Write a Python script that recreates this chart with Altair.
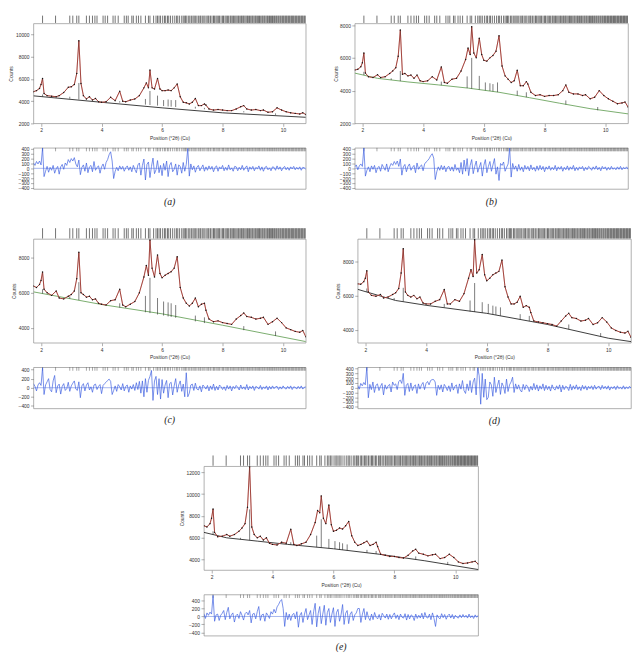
import altair as alt
import numpy as np
import pandas as pd

XDOM = [1.75, 10.75]
X_TICKS = [2, 4, 6, 8, 10]

# sampling positions of the observed / calculated profile (°2θ)
x_grid = [1.75, 1.85, 1.95, 2.0, 2.05, 2.1, 2.2, 2.35, 2.5, 2.6, 2.75, 2.9, 3.0, 3.1, 3.18,
          3.25, 3.32, 3.4, 3.5, 3.6, 3.7, 3.8, 3.9, 4.0, 4.15, 4.3, 4.45, 4.6, 4.7, 4.8,
          4.95, 5.1, 5.25, 5.4, 5.48, 5.55, 5.6, 5.67, 5.75, 5.85, 5.93, 6.0, 6.1, 6.2, 6.3,
          6.4, 6.5, 6.6, 6.7, 6.8, 6.9, 7.0, 7.1, 7.2, 7.3, 7.4, 7.45, 7.55, 7.7, 7.85,
          8.0, 8.15, 8.3, 8.45, 8.6, 8.7, 8.8, 8.95, 9.1, 9.25, 9.35, 9.5, 9.65, 9.8, 9.95,
          10.1, 10.25, 10.4, 10.55, 10.65, 10.75]

obs_a = [4850, 4950, 5150, 5500, 6050, 4700, 4500, 4450, 4400, 4500,
         4780, 5250, 5300, 5500, 6500, 9450, 5600, 4500, 4200, 4400,
         4100, 4250, 3950, 3900, 3950, 4350, 4050, 4900, 4000, 3950,
         4100, 4200, 4500, 5200, 5650, 5200, 6800, 5200, 5100, 6050,
         5100, 4950, 4950, 5000, 4950, 5200, 5550, 4400, 3900, 3850,
         3750, 3900, 4250, 3600, 3600, 3750, 3650, 3300, 3200, 3250,
         3200, 3150, 3150, 3300, 3500, 3600, 3300, 3200, 3250, 3150,
         3200, 3000, 3050, 3400, 3200, 3050, 2950, 2900, 2850, 2950, 2800]
obs_b = [5260, 5300, 5460, 5700, 6300, 5070, 4850, 4800, 4970, 4800,
         4850, 5050, 5200, 5400, 6100, 7700, 5000, 5050, 4900, 4950,
         4750, 4950, 4600, 4550, 4600, 4850, 4650, 5450, 4500, 4450,
         4700, 4750, 5200, 5900, 6600, 6200, 7900, 6300, 6000, 7200,
         6200, 5850, 5800, 6000, 6150, 6400, 7350, 5500, 4900, 4700,
         4500, 4600, 5250, 4300, 4300, 4550, 4400, 3900, 3700, 3750,
         3650, 3700, 3700, 3750, 4000, 4350, 3900, 3800, 3800, 3700,
         3750, 3500, 3600, 4000, 3700, 3500, 3350, 3200, 3250, 3300, 3000]
obs_c = [6380, 6300, 6470, 6700, 7180, 6200, 6000, 5850, 6100, 5700,
         5650, 5800, 5900, 6100, 6800, 8300, 6000, 5900, 5750, 5800,
         5600, 5650, 5400, 5350, 5300, 5550, 5600, 6200, 5300, 5200,
         5350, 5500, 6000, 6900, 7550, 7000, 9000, 7400, 6900, 8150,
         7100, 6850, 7000, 7100, 7200, 7400, 8050, 6300, 5700, 5400,
         5250, 5400, 5700, 5200, 5350, 5400, 5000, 4500, 4350, 4400,
         4300, 4250, 4200, 4500, 4700, 4850, 4650, 4600, 4500, 4550,
         4600, 4200, 4350, 4550, 4300, 4000, 3900, 3800, 3750, 3850, 3500]
obs_d = [6670, 6650, 6800, 7000, 7430, 6200, 6000, 5950, 6050, 5850,
         5900, 6050, 6150, 6400, 7300, 8720, 6200, 6000, 5900, 6000,
         5800, 5900, 5550, 5500, 5500, 5650, 5750, 6340, 5500, 5500,
         5750, 5650, 6100, 7000, 7500, 7100, 9250, 7300, 7500, 8380,
         7200, 6850, 7000, 7200, 7300, 7400, 8060, 6500, 5900, 5500,
         5500, 5600, 5950, 5300, 5400, 5300, 5000, 4500, 4450, 4400,
         4350, 4300, 4200, 4500, 4800, 4950, 4700, 4650, 4500, 4550,
         4650, 4300, 4400, 4700, 4450, 4100, 3950, 3850, 3800, 3900, 3550]
obs_e = [7100, 7000, 7300, 7800, 8640, 6500, 6100, 6150, 6300, 6150,
         6300, 6600, 6900, 7300, 8800, 12500, 7000, 6300, 6000, 6150,
         5800, 6000, 5500, 5400, 5350, 5600, 5500, 6790, 5400, 5300,
         5450, 5600, 6300, 7400, 8500, 8300, 9840, 7800, 7300, 9000,
         7200, 6600, 6700, 6900, 6800, 7100, 7500, 6200, 5600, 5300,
         5400, 5550, 5700, 5300, 5400, 5600, 5200, 4500, 4400, 4300,
         4300, 4200, 4150, 4400, 4800, 4950, 4600, 4500, 4350, 4450,
         4500, 4100, 4200, 4500, 4200, 3800, 3650, 3700, 3800, 3850, 3600]

# backgrounds
bg_a_x = [1.75, 4.0, 6.0, 8.0, 10.75]
bg_a_y = [4480, 3900, 3400, 2950, 2550]
bg_b_x = [1.75, 2.5, 3.5, 4.5, 5.5, 6.5, 7.5, 8.5, 9.5, 10.75]
bg_b_y = [5070, 4750, 4530, 4350, 4150, 3900, 3570, 3230, 2900, 2580]
bg_c_x = [1.75, 4.0, 6.0, 8.0, 10.75]
bg_c_y = [6050, 5330, 4800, 4150, 3220]
bg_d_x = [1.75, 3.0, 4.0, 6.0, 8.0, 10.0, 10.75]
bg_d_y = [6350, 5700, 5420, 4950, 4300, 3500, 3300]
bg_e_x = [1.75, 2.5, 3.5, 4.5, 6.0, 7.5, 9.0, 10.75]
bg_e_y = [6500, 6000, 5700, 5400, 5000, 4500, 3900, 3100]

# reflection intensity sticks (bottom / top)
stick_x = [2.05, 2.95, 3.25, 4.6, 5.45, 5.6, 5.85, 6.05, 6.2, 6.3, 6.45, 7.1, 7.4, 8.7, 9.75]
stick_lo_a = [4415, 4220, 4155, 3870, 3690, 3655, 3600, 3560, 3525, 3505, 3475, 3335, 3270, 2990, 2765]
stick_hi_a = [4600, 4400, 5640, 4000, 4200, 4920, 4500, 4100, 4150, 4100, 4100, 3500, 3400, 3100, 2900]
stick_lo_b = [4950, 4650, 4580, 4330, 4160, 4120, 4060, 4010, 3980, 3950, 3910, 3700, 3600, 3150, 2800]
stick_hi_b = [5150, 4750, 5200, 4550, 4870, 6000, 4900, 4500, 4450, 4400, 4500, 4000, 3900, 3400, 3000]
stick_lo_c = [5955, 5670, 5580, 5155, 4890, 4840, 4760, 4700, 4650, 4620, 4575, 4370, 4275, 3870, 3540]
stick_hi_c = [6200, 5800, 6600, 5400, 5820, 6850, 5700, 5500, 5450, 5400, 5300, 4700, 4600, 4100, 3800]
stick_lo_d = [6200, 5720, 5640, 5300, 5060, 5030, 4980, 4940, 4890, 4860, 4810, 4600, 4500, 4020, 3600]
stick_hi_d = [6400, 5850, 6440, 5500, 5700, 6720, 5600, 5500, 5400, 5350, 5300, 4900, 4800, 4300, 3800]
stick_lo_e = [6300, 5870, 5790, 5370, 5150, 5110, 5040, 4980, 4930, 4900, 4850, 4630, 4530, 4020, 3560]
stick_hi_e = [6600, 6000, 8600, 5600, 6200, 7700, 5900, 5700, 5600, 5500, 5400, 4900, 4800, 4300, 3800]

# reflection positions (tick marks)
refl = [2.05, 2.48, 2.95, 3.05, 3.18, 3.25, 3.5, 3.6, 3.7, 3.78, 3.85, 4.05, 4.12, 4.2, 4.38,
        4.45, 4.55, 4.75, 4.82, 4.88, 5.0, 5.05, 5.15, 5.22, 5.3, 5.45, 5.55, 5.6, 5.72, 5.8,
        5.85, 5.9, 5.95, 6.02, 6.08, 6.12, 6.18, 6.22, 6.28, 6.35, 6.42, 6.48, 6.52, 6.58,
        6.65, 6.7, 6.75, 6.78, 6.82, 6.88, 6.92, 6.97, 7.02, 7.06, 7.1, 7.15, 7.2, 7.25,
        7.28, 7.33, 7.38, 7.42, 7.48, 7.52, 7.55, 7.6, 7.65, 7.7, 7.73, 7.78, 7.82, 7.86,
        7.9, 7.95, 8.0, 8.03, 8.08, 8.12, 8.16, 8.2, 8.25, 8.28, 8.32, 8.36, 8.4, 8.44,
        8.48, 8.52, 8.55, 8.6, 8.63, 8.67, 8.7, 8.74, 8.78, 8.82, 8.85, 8.89, 8.93, 8.97,
        9.0, 9.04, 9.08, 9.11, 9.15, 9.19, 9.22, 9.26, 9.3, 9.33, 9.37, 9.4, 9.44, 9.48,
        9.51, 9.55, 9.58, 9.62, 9.65, 9.69, 9.72, 9.76, 9.79, 9.83, 9.86, 9.9, 9.93, 9.97,
        10.0, 10.03, 10.07, 10.1, 10.13, 10.17, 10.2, 10.23, 10.27, 10.3, 10.33, 10.36,
        10.4, 10.43, 10.46, 10.5, 10.53, 10.56, 10.6, 10.63, 10.66, 10.7, 10.73]

# difference curves (equally spaced over the 2θ range, step ≈ 0.05°)
diff_a = [110, 60, 140, 90, 150, 70, 420,
          -170, -60, 40, -80, 20, -40, 60, -100, -10, 40, -120, 30, 80, -20, 110, 60, 180, 120,
          200, 150, 220, 90, 30,
          170,
          -130, 20, 70, -60, 110, -90, 30, 60, -70, 140, -40, 20, 50, -100, 30, 90, -20, 120, 180,
          280, 340, 150, -210,
          -60, 20, -50, 50, -20, 40, -60, 10, 50, -40, 30, -70, 60, -20, -90, 70, 110,
          -140, 60, 190, -240, 80, 130, -190, 40, 210, -110, -30, 160, -90, 60, -150,
          100, -40, 150, -170, 60, 120, -70, -20, 90, -140, 70, 40, -100, 120, -60, 80,
          410,
          -160, 90, -30, 50, -80, 20, 60, -50, 10, 70, -60, 30, -40, 50, -20, 40, -70, 20, 50, -60,
          30, -10, 60, -50, 20, -40, 70, -30, 10, -60, 40, 30, -50, 20, -30, 60, -40, 10, 50, -70,
          30, -20, 40, -50, 20, -10, 50, -40, 30, -60, 20, 40, -30, 10, -50, 30, 20, -40, 50, -20,
          30, -50, 10, 40, -30, 20, -40, 30, -10, 40, -30, 20, -20, 30, -40, 20, 10, -20]
diff_b = [30, 70, -30, 50, 90, 40, 420,
          -160, -40, 30, -70, 50, -20, 60, -90, 10, 40, -60, 80, 20, -40, 90, -70, 30, 100,
          60, 140, 80, 150, 40,
          190,
          -140, 30, 80, -70, 40, 90, -40, 20, 60, -90, 110, -20, 40, 70, -50, 90, 130, 160, 200,
          260, 300, 210, -230,
          -70, 30, -40, 60, -30, 50, -70, 20, 40, -50, 30, -60, 80, -40, 10, -90, 120,
          -120, 170, -60, 200, -150, 60, 180, -110, 40, 150, -80, 20, 120, -160, 60,
          180, -90, 40, 140, -60, 70, 200, -120, 30, -250, 100, 60, 130, -60, 20, 90,
          420,
          -180, 100, -20, 50, -60, 80, -40, 30, -70, 60, -20, 40, -50, 70, -30, 20, -60, 50, -40, 60,
          -30, 40, -70, 30, -20, 50, -40, 20, -30, 60, -50, 30, -20, 40, -60, 20, -30, 50, -40, 30,
          -20, 60, -50, 20, -40, 30, -10, 40, -50, 20, -30, 40, 10, -40, 30, -20, 50, -30, 20, -50,
          40, -10, 30, -40, 20, -30, 40, -20, 10, -30, 30, -20, 40, -30, 20, -10, 30, -20]
diff_c = [90, 30, -70, 60, 110, 50, 440,
          -150, 60, 130, 200, -40, -90, 150, 270, -110, 40, 80, -140, 30, 90, -60, -20, 120, -80,
          40, 100, 150, -30, -60,
          130,
          -220, 40, 90, -70, 60, 110, -50, 20, -100, 60, 80, -40, 30, 70, -130, 50, 90, 120, 160,
          190, 140, -150, -60,
          40, -80, 70, 20, -50, 90, -70, 30, 60, -100, 40, -30, 70, -60, 110, -40, 140,
          -120, 150, -200, 200, -100, 160, 250, 380, -280, 150, 250, -150, 200, -250, 180,
          -120, 60, 160, -220, 90, 120, -160, 40, 200, -100, 60, 150, -80, 80, -200, 330,
          -200,
          -120, 60, 80, -60, 100, -30, -50, 40, -90, 60, 20, -30, 50, -70, 40, -40, 80, -60, 30, -50,
          60, 20, -40, 20, -60, 50, -30, 40, -70, 30, -20, 50, 10, -50, 60, -30, 20, -40, 70, -50,
          30, -20, 40, -60, 30, 10, -30, 50, -40, 20, -20, 40, -50, 30, -30, 40, -20, 20, 30, -40,
          20, -30, 40, -10, -30, 30, -20, 40, -40, 20, 10, -30, 30, -20, 40, -30, 10, 20]
diff_d = [50, -30, 90, 40, 110, 60, 430,
          -210, 70, -40, 120, -100, 50, 80, -60, 30, 90, -150, 60, -30, 40, 70, -90, 120, 50,
          80, -40, 130, 160, 90,
          300,
          -160, 50, 90, -80, 100, -60, 30, 60, -120, 80, -30, 60, 110, -40, 90, 130, 60, 150, 170,
          170, 120, -160, 50,
          -40, 60, -90, 70, 20, -60, 40, -80, 100, -50, 30, 60, -120, 80, -30, 150, -60,
          -120, 80, -60, 150, -100, 120, 200, -150, 420, 250, -345, 300, -200, 180, -250,
          -200, 120, 60, -180, 220, -100, 40, 160, -140, 100, 30, -120, 180, -80, 60, 120,
          220,
          -100, 80, -30, 60, -50, -90, 70, -40, 60, 20, -80, 30, -50, 90, -40, 60, -70, 40, -30, 80,
          -60, 50, -40, 30, -70, 60, -20, -50, 40, -30, 60, -90, 50, -40, 30, 10, -60, 70, -50, 40,
          -30, 60, -40, 20, -60, 50, -30, 40, -50, 30, -20, 40, -40, 50, -30, 20, 30, -40, 50, -20,
          30, -30, 40, -50, 20, -20, 30, -40, 40, -20, 10, -30, 40, -30, 20, -20, 30, -10]
diff_e = [70, -50, 90, 30, 110, 60, 530,
          -120, 40, 60, -100, 30, 80, 150, -80, 100, 230, -60, 40, 90, -140, 20, 60, -50, 120,
          30, -90, 70, 110, 40,
          150,
          -160, 60, 80, -60, 120, 250, -100, 40, 60, -120, 90, 30, -50, 120, 60, 180, 90, 240, 300,
          380, 425, 200, -250,
          100, -80, 60, -100, 40, 80, -60, 120, -270, 30, 100, -150, 60, 200, -80, 40, 150,
          -200, 120, 330, -260, 80, 250, -180, 60, 280, -220, 100, 200, -150, 60, 220,
          -250, 100, 180, -120, 40, 300, -200, 80, 150, -180, 60, 120, -100, 40, 90, 200,
          200,
          -150, 60, 200, -80, 120, -30, -100, 60, -80, 100, -20, -60, 50, -90, 80, 20, -40, 60, -70, 50,
          -60, 30, 90, -50, 40, -80, 60, -20, -40, 70, -90, 50, -60, 40, 10, -100, 60, -50, 30, -40,
          80, -60, 100, -20, -40, 60, -80, 90, -50, -250, 40, -30, -60, 70, -30, 50, -70, 20, 60, -40,
          50, -60, 30, -20, -40, 40, -30, 50, -20, 30, -40, 60, -30, 20, -50, 40, -20, 30]

main_ticks_a = [2000, 4000, 6000, 8000, 10000]
main_ticks_b = [2000, 4000, 6000, 8000]
main_ticks_cd = [4000, 6000, 8000]
main_ticks_e = [4000, 6000, 8000, 10000, 12000]
diff_ticks_dense = [400, 300, 200, 100, 0, -100, -200, -300, -400]
diff_ticks_sparse = [400, 200, 0, -200, -400]

FONT = "Liberation Sans"
RED = "#e65a50"
BLUE = "#3d5fe0"
TXT = "#333333"
TICK = "#777777"
GREEN = "#6aa35c"
DARK = "#262626"


def xscale():
    return alt.Scale(domain=XDOM, nice=False, zero=False)


def axis_common():
    return dict(labelFont=FONT, labelFontSize=5, labelColor=TXT, tickSize=3, tickWidth=0.6,
                tickColor=TICK, labelPadding=1.5, domain=False, grid=False, format="d")


def main_chart(obs, bgx, bgy, bgcol, lo, hi, ydom, yticks, width, height, strip_h):
    xs = alt.X("x:Q", scale=xscale(),
               axis=alt.Axis(values=X_TICKS, title="Position (°2θ) (Cu)",
                             titleFont=FONT, titleFontSize=5, titleFontWeight="normal",
                             titleColor=TXT, titlePadding=3, **axis_common()))
    ys = alt.Y("y:Q", scale=alt.Scale(domain=ydom, nice=False, zero=False),
               axis=alt.Axis(values=yticks, title="Counts",
                             titleFont=FONT, titleFontSize=5, titleFontWeight="normal",
                             titleColor=TXT, titlePadding=1.5, **axis_common()))
    df = pd.DataFrame({"x": x_grid, "y": obs})
    strip = alt.Chart(pd.DataFrame({"x": refl})).mark_rule(
        color="#111111", strokeWidth=0.7, opacity=0.85, clip=False
    ).encode(x=xs, y=alt.value(-strip_h), y2=alt.value(-0.5))
    bg = alt.Chart(pd.DataFrame({"x": bgx, "y": bgy})).mark_line(
        color=bgcol, strokeWidth=0.9, clip=True).encode(x=xs, y=ys)
    sticks = alt.Chart(pd.DataFrame({"x": stick_x, "y": lo, "y2": hi})).mark_rule(
        color="#222222", strokeWidth=0.6, clip=True).encode(x=xs, y=ys, y2="y2:Q")
    calc = alt.Chart(df).mark_line(color=RED, strokeWidth=1.0, clip=True).encode(x=xs, y=ys)
    obsl = alt.Chart(df).mark_line(color="#1a1a1a", strokeWidth=0.5, opacity=0.7,
                                   clip=True).encode(x=xs, y=ys)
    pts = alt.Chart(df).mark_circle(color="#141414", size=2.2, opacity=1, clip=True).encode(x=xs, y=ys)
    return alt.layer(bg, sticks, calc, obsl, pts, strip).properties(width=width, height=height)


def diff_chart(vals, ddom, dticks, width, height, caption):
    dx = np.linspace(XDOM[0], XDOM[1], len(vals))
    df = pd.DataFrame({"x": dx, "y": vals})
    xs = alt.X("x:Q", scale=xscale(), axis=None)
    ys = alt.Y("y:Q", scale=alt.Scale(domain=ddom, nice=False, zero=False),
               axis=alt.Axis(values=dticks, title="", labelOverlap=False, **axis_common()))
    zero = alt.Chart(pd.DataFrame({"y": [0]})).mark_rule(
        color="#7f95e6", strokeWidth=0.7).encode(y=ys)
    ticks = alt.Chart(pd.DataFrame({"x": refl})).mark_rule(
        color="#222222", strokeWidth=0.5, opacity=0.8).encode(
        x=xs, y=alt.value(0), y2=alt.value(3.5))
    line = alt.Chart(df).mark_line(color=BLUE, strokeWidth=0.7, clip=True).encode(x=xs, y=ys)
    return alt.layer(zero, ticks, line).properties(
        width=width, height=height,
        title=alt.TitleParams(text=caption, orient="bottom", anchor="middle", frame="group",
                              font="Liberation Serif", fontStyle="italic", fontSize=10,
                              fontWeight="normal", color="#222222", offset=7))


def panel(obs, bgx, bgy, bgcol, lo, hi, ydom, yticks, diff, ddom, dticks,
          caption, width, strip_h, main_h):
    return alt.vconcat(
        main_chart(obs, bgx, bgy, bgcol, lo, hi, ydom, yticks, width, main_h, strip_h),
        diff_chart(diff, ddom, dticks, width, 42, caption),
        spacing=25, bounds="flush")


pa = panel(obs_a, bg_a_x, bg_a_y, DARK, stick_lo_a, stick_hi_a, [2000, 11000], main_ticks_a,
           diff_a, [-425, 420], diff_ticks_dense, "(a)", 278, 8, 102)
pb = panel(obs_b, bg_b_x, bg_b_y, GREEN, stick_lo_b, stick_hi_b, [2000, 8100], main_ticks_b,
           diff_b, [-425, 420], diff_ticks_dense, "(b)", 279, 8, 102)
pc = panel(obs_c, bg_c_x, bg_c_y, GREEN, stick_lo_c, stick_hi_c, [3150, 9060], main_ticks_cd,
           diff_c, [-457, 450], diff_ticks_sparse, "(c)", 278, 11, 106)
pd_ = panel(obs_d, bg_d_x, bg_d_y, DARK, stick_lo_d, stick_hi_d, [3230, 9290], main_ticks_cd,
            diff_d, [-434, 427], diff_ticks_dense, "(d)", 279, 11, 106)
pe = panel(obs_e, bg_e_x, bg_e_y, DARK, stick_lo_e, stick_hi_e, [3050, 12550], main_ticks_e,
           diff_e, [-483, 550], diff_ticks_sparse, "(e)", 280, 11, 106)

spacer = alt.Chart(pd.DataFrame({"x": [0]})).mark_point(opacity=0).encode(
    x=alt.X("x:Q", axis=None), y=alt.Y("x:Q", axis=None)
).properties(width=138, height=5, view=alt.ViewBackground(stroke="transparent"))

row1 = alt.hconcat(pa, pb, spacing=26)
row2 = alt.hconcat(pc, pd_, spacing=29)
row3 = alt.hconcat(spacer, pe, spacing=9)

chart = alt.vconcat(
    alt.vconcat(row1, row2, spacing=19),
    row3, spacing=28
).properties(padding=0).configure_view(stroke="#8c8c8c", strokeWidth=0.7)

chart.save("out.html", embed_options={"renderer": "svg", "actions": False})
